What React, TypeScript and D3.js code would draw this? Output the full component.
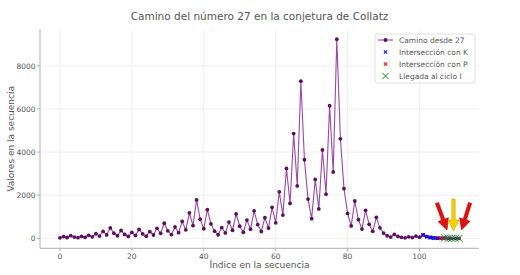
import React from "react";
import * as d3 from "d3";

const pathValues: number[] = [
  27, 82, 41, 124, 62, 31, 94, 47, 142, 71, 214, 107, 322, 161, 484, 242, 121, 364, 182, 91,
  274, 137, 412, 206, 103, 310, 155, 466, 233, 700, 350, 175, 526, 263, 790, 395, 1186, 593,
  1780, 890, 445, 1336, 668, 334, 167, 502, 251, 754, 377, 1132, 566, 283, 850, 425, 1276, 638,
  319, 958, 479, 1438, 719, 2158, 1079, 3238, 1619, 4858, 2429, 7288, 3644, 1822, 911, 2734,
  1367, 4102, 2051, 6154, 3077, 9232, 4616, 2308, 1154, 577, 1732, 866, 433, 1300, 650, 325,
  976, 488, 244, 122, 61, 184, 92, 46, 23, 70, 35, 106, 53, 160, 80, 40, 20, 10, 5, 16, 8, 4, 2, 1,
];
const kIndices: number[] = [101, 102, 103, 104, 105];
const pIndices: number[] = [106];
const cycleIndices: number[] = [107, 108, 109, 110, 111];
const xTicks: number[] = [0, 20, 40, 60, 80, 100];
const yTicks: number[] = [0, 2000, 4000, 6000, 8000];
const legendLabels: string[] = [
  "Camino desde 27",
  "Intersección con K",
  "Intersección con P",
  "Llegada al ciclo I",
];

const W = 520;
const H = 275;
const left = 40, right = 479, top = 29.3, bottom = 248.3;
const FONT = "DejaVu Sans, sans-serif";
const TXT = "#555";
const LINE = "#9a48a6";
const DOT = "#5c0f5c";

function Cross({ x, y, s, color, w }: { x: number; y: number; s: number; color: string; w: number }) {
  return (
    <g stroke={color} strokeWidth={w}>
      <line x1={x - s} y1={y - s} x2={x + s} y2={y + s} />
      <line x1={x - s} y1={y + s} x2={x + s} y2={y - s} />
    </g>
  );
}

function Arrow({ x1, y1, x2, y2, color, stroke }: { x1: number; y1: number; x2: number; y2: number; color: string; stroke: string }) {
  const ang = Math.atan2(y2 - y1, x2 - x1);
  const headLen = 11, headW = 5.5, shaftW = 1.7;
  const bx = x2 - headLen * Math.cos(ang);
  const by = y2 - headLen * Math.sin(ang);
  const nx = -Math.sin(ang), ny = Math.cos(ang);
  const pts = [
    [x1 + nx * shaftW, y1 + ny * shaftW],
    [bx + nx * shaftW, by + ny * shaftW],
    [bx + nx * headW, by + ny * headW],
    [x2, y2],
    [bx - nx * headW, by - ny * headW],
    [bx - nx * shaftW, by - ny * shaftW],
    [x1 - nx * shaftW, y1 - ny * shaftW],
  ];
  return <polygon points={pts.map((p) => p.join(",")).join(" ")} fill={color} stroke={stroke} strokeWidth={0.6} />;
}

export default function App() {
  const x = d3.scaleLinear().domain([-5.55, 116.55]).range([left, right]);
  const y = d3.scaleLinear().domain([-460.55, 9692.55]).range([bottom, top]);
  const line = d3
    .line<number>()
    .x((_, i) => x(i))
    .y((d) => y(d));

  const lx = 378, ly = 40, dy = 12;

  return (
    <svg width={W} height={H} style={{ position: "absolute", left: 0, top: 0, background: "#fff" }} fontFamily={FONT}>
      <rect width={W} height={H} fill="#fff" />
      {/* grid */}
      {xTicks.map((t) => (
        <line key={"gx" + t} x1={x(t)} x2={x(t)} y1={top} y2={bottom} stroke="#ececec" strokeWidth={0.8} />
      ))}
      {yTicks.map((t) => (
        <line key={"gy" + t} x1={left} x2={right} y1={y(t)} y2={y(t)} stroke="#ececec" strokeWidth={0.8} />
      ))}
      {/* spines */}
      <line x1={left} x2={left} y1={top} y2={bottom} stroke="#b0b0b0" strokeWidth={1} />
      <line x1={left} x2={right} y1={bottom} y2={bottom} stroke="#b0b0b0" strokeWidth={1} />
      {/* ticks */}
      {xTicks.map((t) => (
        <g key={"tx" + t}>
          <line x1={x(t)} x2={x(t)} y1={bottom} y2={bottom + 3} stroke="#b0b0b0" />
          <text x={x(t)} y={bottom + 11} fontSize={7.5} fill={TXT} textAnchor="middle">{t}</text>
        </g>
      ))}
      {yTicks.map((t) => (
        <g key={"ty" + t}>
          <line x1={left - 3} x2={left} y1={y(t)} y2={y(t)} stroke="#b0b0b0" />
          <text x={left - 4.5} y={y(t) + 2.7} fontSize={7.5} fill={TXT} textAnchor="end">{t}</text>
        </g>
      ))}
      {/* labels */}
      <text x={(left + right) / 2} y={20} fontSize={10.5} fill={TXT} textAnchor="middle">
        Camino del número 27 en la conjetura de Collatz
      </text>
      <text x={(left + right) / 2} y={268} fontSize={9} fill={TXT} textAnchor="middle">
        Índice en la secuencia
      </text>
      <text transform={`translate(14,${(top + bottom) / 2}) rotate(-90)`} fontSize={9} fill={TXT} textAnchor="middle">
        Valores en la secuencia
      </text>
      {/* path */}
      <path d={line(pathValues) || ""} fill="none" stroke={LINE} strokeWidth={1.1} />
      {pathValues.map((v, i) => (
        <circle key={"p" + i} cx={x(i)} cy={y(v)} r={1.9} fill={DOT} />
      ))}
      {kIndices.map((i) => (
        <Cross key={"k" + i} x={x(i)} y={y(pathValues[i])} s={1.8} color="#1010ee" w={1.2} />
      ))}
      {pIndices.map((i) => (
        <Cross key={"pp" + i} x={x(i)} y={y(pathValues[i])} s={1.8} color="#ee1010" w={1.2} />
      ))}
      {cycleIndices.map((i) => (
        <Cross key={"c" + i} x={x(i)} y={y(pathValues[i])} s={3.5} color="#1a8a2a" w={1} />
      ))}
      {/* legend */}
      <rect x={375} y={34} width={100} height={49} fill="#fff" fillOpacity={0.85} stroke="#e0e0e0" rx={2} />
      <line x1={lx} x2={lx + 15} y1={ly} y2={ly} stroke={LINE} strokeWidth={1.1} />
      <circle cx={lx + 7.5} cy={ly} r={1.9} fill={DOT} />
      <Cross x={lx + 7.5} y={ly + dy} s={1.6} color="#1010ee" w={1.1} />
      <Cross x={lx + 7.5} y={ly + 2 * dy} s={1.6} color="#ee1010" w={1.1} />
      <Cross x={lx + 7.5} y={ly + 3 * dy} s={3.2} color="#1a8a2a" w={1} />
      {legendLabels.map((l, i) => (
        <text key={l} x={399} y={ly + i * dy + 2.8} fontSize={7.5} fill={TXT}>{l}</text>
      ))}
      {/* annotation arrows */}
      <Arrow x1={437} y1={203} x2={447} y2={230} color="#e01010" stroke="#c00000" />
      <Arrow x1={453.5} y1={199} x2={453.5} y2={231} color="#f2d200" stroke="#c8a800" />
      <Arrow x1={470} y1={203} x2={461.5} y2={230} color="#e01010" stroke="#c00000" />
    </svg>
  );
}
